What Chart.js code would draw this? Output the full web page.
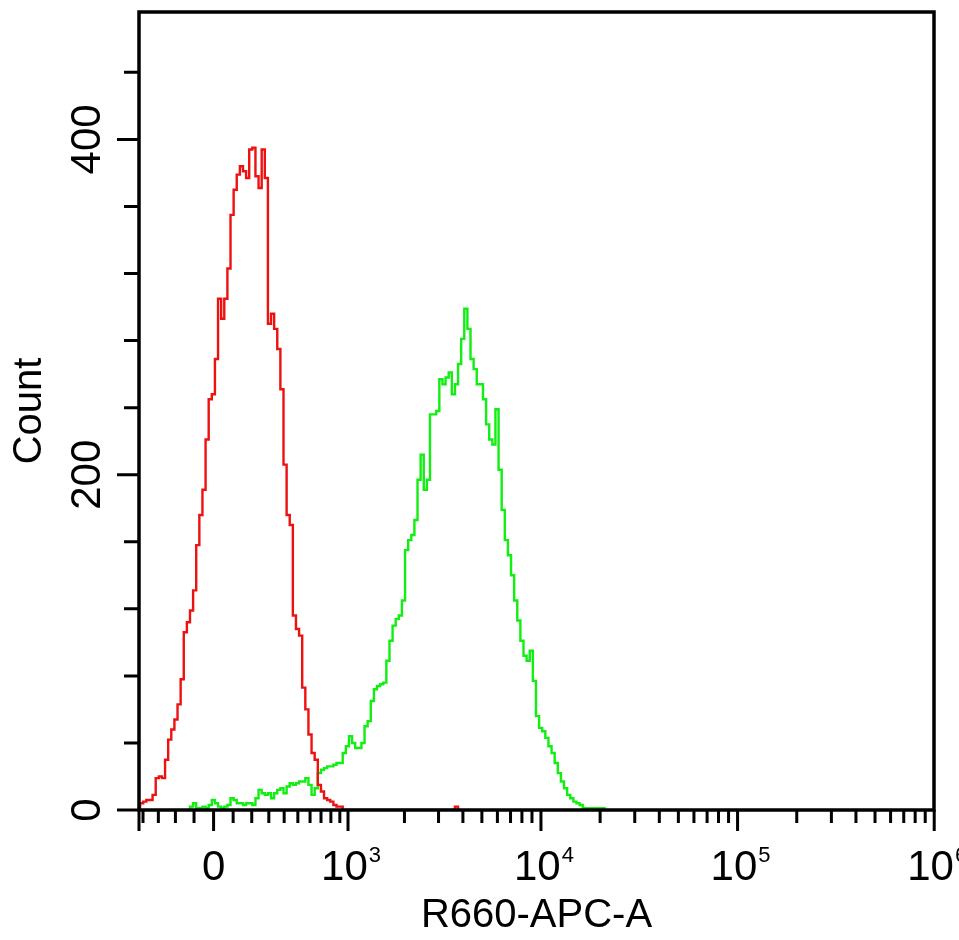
<!DOCTYPE html>
<html><head><meta charset="utf-8">
<script src="https://cdn.jsdelivr.net/npm/chart.js@4.4.0/dist/chart.umd.min.js"></script>
<style>html,body{margin:0;padding:0;background:#fff;overflow:hidden}#wrap{width:959px;height:940px}</style>
</head><body><div id="wrap"><canvas id="c" width="959" height="940"></canvas></div>
<script>
// ---- data (channel-binned histogram counts) ----
const redStart = 0;
const redCounts = [2,4,5,6,6,9,19,20,19,30,42,48,54,63,78,106,112,119,131,158,176,191,221,245,248,269,305,293,305,323,355,370,379,384,381,377,394,395,378,371,394,377,290,296,287,275,251,206,176,170,116,108,104,73,60,45,34,30,15,11,7,6,5,3,2,2,
0,0,0,0,0,0,0,0,0,0,0,0,0,0,0,0,0,0,0,0,0,0,0,0,0,0,0,0,0,0,0,0,0,0,0,0,2,0];
const greenStart = 16;
const greenCounts = [0,2,4,1,1,2,1,3,6,4,2,1,2,3,7,6,4,4,3,4,4,3,7,12,10,9,10,7,10,12,13,10,14,16,15,16,17,17,19,15,9,13,22,24,25,26,26,27,28,28,34,38,44,40,37,37,40,50,53,65,72,74,75,76,89,101,110,114,116,125,155,161,164,173,197,212,191,197,236,236,238,257,254,258,261,248,254,266,281,299,287,269,263,254,254,245,230,221,218,239,203,179,161,152,140,125,113,101,92,89,95,77,56,49,47,43,38,34,28,22,17,13,9,7,5,4,3,1,1,1,1,1,1,1,0];

// ---- axis ticks ----
const xMajorValues = [0, 1e3, 1e4, 1e5, 1e6];
const xMajorBase = ['0', '10', '10', '10', '10'];
const xMajorExp = ['', '3', '4', '5', '6'];
const xMinorValues = [-400,-300,-200,-100,100,200,300,400,500,600,700,800,900,
  2000,3000,4000,5000,6000,7000,8000,9000,
  20000,30000,40000,50000,60000,70000,80000,90000,
  200000,300000,400000,500000,600000,700000,800000,900000];
const yMajorValues = [0, 200, 400];
const yMinorValues = [40, 80, 120, 160, 240, 280, 320, 360, 440];
const xTitle = 'R660-APC-A';
const yTitle = 'Count';

// biexponential-like display transform: value -> channel
const ZERO_CH = 24.57, SLOPE = 27.40, LIN = 433;
function toChannel(v) { return ZERO_CH + SLOPE * Math.asinh(v / LIN); }

function points(start, counts) {
  return counts.map((y, i) => ({ x: start + i + 0.5, y: y }));
}

const FONT = '"Liberation Sans", Arial, sans-serif';

const framePlugin = {
  id: 'framePlugin',
  afterDraw(chart) {
    const ctx = chart.ctx;
    const a = chart.chartArea;
    const xs = chart.scales.x, ys = chart.scales.y;
    ctx.save();
    ctx.strokeStyle = '#000';
    ctx.fillStyle = '#000';
    ctx.lineWidth = 3.5;
    ctx.strokeRect(a.left, a.top, a.right - a.left, a.bottom - a.top);
    ctx.lineWidth = 3;
    ctx.beginPath();
    yMajorValues.forEach(v => { const p = ys.getPixelForValue(v); ctx.moveTo(a.left - 22, p); ctx.lineTo(a.left, p); });
    yMinorValues.forEach(v => { const p = ys.getPixelForValue(v); ctx.moveTo(a.left - 15, p); ctx.lineTo(a.left, p); });
    xMajorValues.forEach(v => { const p = xs.getPixelForValue(toChannel(v)); ctx.moveTo(p, a.bottom); ctx.lineTo(p, a.bottom + 21); });
    xMinorValues.forEach(v => { const p = xs.getPixelForValue(toChannel(v)); ctx.moveTo(p, a.bottom); ctx.lineTo(p, a.bottom + 13); });
    ctx.moveTo(a.left, a.bottom); ctx.lineTo(a.left, a.bottom + 21);
    ctx.stroke();

    // y tick labels (rotated)
    ctx.font = '42px ' + FONT;
    ctx.textAlign = 'center';
    ctx.textBaseline = 'alphabetic';
    yMajorValues.forEach(v => {
      const p = ys.getPixelForValue(v);
      ctx.save();
      ctx.translate(100, p);
      ctx.rotate(-Math.PI / 2);
      ctx.fillText(String(v), 0, 0);
      ctx.restore();
    });
    // x tick labels with superscripts
    xMajorValues.forEach((v, i) => {
      const p = xs.getPixelForValue(toChannel(v));
      ctx.font = '42px ' + FONT;
      if (!xMajorExp[i]) {
        ctx.textAlign = 'center';
        ctx.fillText(xMajorBase[i], p, 880);
      } else {
        ctx.textAlign = 'left';
        const x0 = p - 27;
        ctx.fillText(xMajorBase[i], x0, 880);
        const w = ctx.measureText(xMajorBase[i]).width;
        ctx.font = '22px ' + FONT;
        ctx.fillText(xMajorExp[i], x0 + w + 1, 862);
      }
    });
    ctx.restore();
  }
};

new Chart(document.getElementById('c'), {
  type: 'line',
  data: {
    datasets: [
      { label: 'red', data: points(redStart, redCounts), borderColor: '#ee1111', borderWidth: 2.4, stepped: 'middle', pointRadius: 0, fill: false },
      { label: 'green', data: points(greenStart, greenCounts), borderColor: '#11ee11', borderWidth: 2.4, stepped: 'middle', pointRadius: 0, fill: false }
    ]
  },
  options: {
    responsive: false,
    animation: false,
    devicePixelRatio: 1,
    layout: { padding: { top: 12, right: 25, left: 0, bottom: 0 } },
    plugins: { legend: { display: false }, tooltip: { enabled: false } },
    scales: {
      x: {
        type: 'linear', min: 0.64, max: 255.7,
        grid: { display: false }, border: { display: false },
        ticks: { display: false },
        title: { display: true, text: xTitle, color: '#000', font: { family: FONT, size: 40 }, padding: { top: 0, bottom: 0 } },
        afterFit(s) { s.height = 130; }
      },
      y: {
        min: 0, max: 476,
        grid: { display: false }, border: { display: false },
        ticks: { display: false },
        title: { display: true, text: yTitle, color: '#000', font: { family: FONT, size: 40 }, padding: { top: 6, bottom: 0 } },
        afterFit(s) { s.width = 139; }
      }
    }
  },
  plugins: [framePlugin]
});
</script></body></html>
